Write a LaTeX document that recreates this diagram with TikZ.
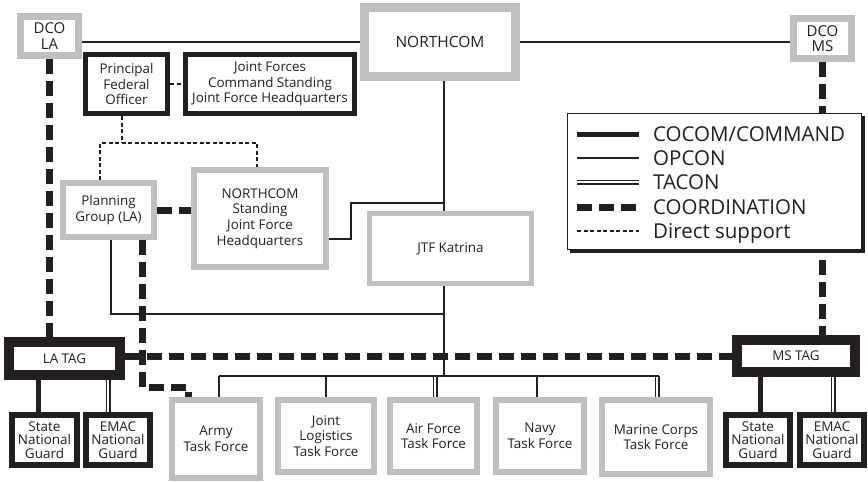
\documentclass[tikz,border=0pt]{standalone}
\usepackage{fontspec}
\setmainfont{Open Sans}
\usetikzlibrary{calc}
\definecolor{ink}{RGB}{35,31,32}
\definecolor{boxgray}{RGB}{190,191,193}
\begin{document}
\begin{tikzpicture}[x=1pt,y=-1pt,
  box/.style={fill=white, align=center, inner sep=0pt, text=ink, font=\fontsize{13.4}{15.6}\selectfont},
  gbox/.style={box, draw=boxgray},
  kbox/.style={box, draw=ink},
  dims/.style n args={3}{line width=#1pt, minimum width=#2pt-#1pt, minimum height=#3pt-#1pt},
  ngfont/.style={font=\fontsize{13.5}{13.6}\selectfont},
  dcofont/.style={font=\fontsize{15}{15.5}\selectfont},
  opcon/.style={draw=ink, line width=1.3pt},
  cocom/.style={draw=ink, line width=5pt},
  tacon/.style={draw=ink, double=white, double distance=2pt, line width=1.5pt},
  coordl/.style={draw=ink, line width=7pt, dash pattern=on 15pt off 7pt},
  dsup/.style={draw=ink, line width=1.8pt, dash pattern=on 4pt off 2.5pt},
  legtext/.style={anchor=base west, inner sep=0pt, text=ink, font=\fontsize{20.5}{24}\selectfont}
]
\useasboundingbox (0,0) rectangle (868,482);

% ---------- nodes ----------
\node[gbox, dims={7}{65}{46}, dcofont] (dcola) at (49.5,36) {DCO\\LA};
\node[gbox, dims={9}{160}{78}, font=\fontsize{15.5}{18}\selectfont] (northcom) at (440,42) {NORTHCOM};
\node[gbox, dims={7}{65}{47}, dcofont] (dcoms) at (822.5,38.5) {DCO\\MS};
\node[kbox, dims={5}{87}{64}] (pfo) at (126.5,84) {Principal\\Federal\\Officer};
\node[kbox, dims={5}{174}{64}] (jfc) at (270,84) {Joint Forces\\Command Standing\\Joint Force Headquarters};
\node[gbox, dims={6}{97}{60}] (pg) at (108.5,210) {Planning\\Group (LA)};
\node[gbox, dims={6}{138}{103}] (nsj) at (260,218.5) {NORTHCOM\\Standing\\Joint Force\\Headquarters};
\node[gbox, dims={5}{167}{75}] (jtf) at (450.5,248.5) {JTF Katrina};
\node[kbox, dims={10}{121}{43}] (latag) at (64.5,358.5) {LA TAG};
\node[kbox, dims={10}{128}{42}] (mstag) at (796,356) {MS TAG};
\node[kbox, dims={6}{71}{56}, ngfont] (lasng) at (44.5,440) {State\\National\\Guard};
\node[kbox, dims={6}{70}{56}, ngfont] (laemac) at (118,440) {EMAC\\National\\Guard};
\node[kbox, dims={6}{70}{56}, ngfont] (mssng) at (758,440) {State\\National\\Guard};
\node[kbox, dims={6}{70}{56}, ngfont] (msemac) at (832,440) {EMAC\\National\\Guard};
\node[gbox, dims={6}{94}{84}] (army) at (216,439) {Army\\Task Force};
\node[gbox, dims={6}{102}{78}] (jl) at (326,436) {Joint\\Logistics\\Task Force};
\node[gbox, dims={6}{93}{78}] (af) at (433.5,436) {Air Force\\Task Force};
\node[gbox, dims={6}{94}{78}] (navy) at (540,436) {Navy\\Task Force};
\node[gbox, dims={6}{114}{80}] (marine) at (656,437) {Marine Corps\\Task Force};

% ---------- helper coordinates ----------
\coordinate (spine) at (444,376);
\coordinate (k0) at (351,239);
\coordinate (k1) at (351,203);
\coordinate (p1) at (111,314);
\coordinate (busL) at (219,376);
\coordinate (bJL) at (326,376);
\coordinate (bAF) at (435,376);
\coordinate (bNV) at (537,376);
\coordinate (busR) at (657,376);
\coordinate (c1) at (142,387);
\coordinate (c2) at (188,387);
\coordinate (ty) at (0,356);
\coordinate (ds) at (122,143);
\coordinate (dsl) at (100,143);
\coordinate (dsr) at (257,143);
\coordinate (g1) at (38,0);
\coordinate (g2) at (108,0);
\coordinate (g3) at (760,0);
\coordinate (g4) at (833,0);

% ---------- OPCON ----------
\draw[opcon] (dcola.east |- northcom.west) -- (northcom.west);
\draw[opcon] (northcom.east) -- (dcoms.west |- northcom.east);
\draw[opcon] (northcom.south -| spine) -- (jtf.north -| spine);
\draw[opcon] (jtf.south -| spine) -- (spine);
\draw[opcon] (nsj.east |- k0) -- (k0) -- (k1) -- (k1 -| spine);
\draw[opcon] (pg.south -| p1) -- (p1) -- (p1 -| spine);
\draw[opcon] (army.north -| busL) -- (busL);
\draw[opcon] (jl.north -| bJL) -- (bJL);
\draw[opcon] (navy.north -| bNV) -- (bNV);
% ---------- TACON drops ----------
\draw[tacon] (af.north -| bAF) -- (bAF);
\draw[tacon] (marine.north -| busR) -- (busR);
\draw[opcon] (busL) -- ([xshift=2pt]busR);
\draw[tacon] (latag.south -| g2) -- (laemac.north -| g2);
\draw[tacon] (mstag.south -| g4) -- (msemac.north -| g4);
% ---------- COCOM ----------
\draw[cocom] (latag.south -| g1) -- (lasng.north -| g1);
\draw[cocom] (mstag.south -| g3) -- (mssng.north -| g3);
% ---------- COORDINATION ----------
\draw[coordl] (dcola.south) -- (latag.north -| dcola.south);
\draw[coordl] (dcoms.south) -- (mstag.north -| dcoms.south);
\draw[coordl] (latag.east |- ty) -- (mstag.west |- ty);
\draw[coordl] (pg.east) -- (nsj.west |- pg.east);
\draw[coordl] (pg.south -| c1) -- (c1) -- (c2) -- (army.north -| c2);
% ---------- Direct support ----------
\draw[dsup] (pfo.east) -- (jfc.west);
\draw[dsup] (pfo.south -| ds) -- (ds);
\draw[dsup] (pg.north -| dsl) -- (dsl) -- (dsr) -- (nsj.north -| dsr);

% ---------- legend ----------
\node[fill=ink, inner sep=0pt, minimum width=295pt, minimum height=137pt] (legshadow) at (717.5,184.5) {};
\node[draw=ink, fill=white, line width=1pt, inner sep=0pt, minimum width=294pt, minimum height=136pt] (legend) at (714.5,181.5) {};
\coordinate (lg) at (legend.north west);
\draw[cocom] ($(lg)+(10,21)$) -- ++(62,0);
\draw[opcon] ($(lg)+(10,45)$) -- ++(62,0);
\draw[tacon] ($(lg)+(10,69)$) -- ++(62,0);
\draw[draw=ink, line width=7pt, dash pattern=on 15pt off 7pt] ($(lg)+(10,94)$) -- ++(62,0);
\draw[dsup] ($(lg)+(10,118)$) -- ++(62,0);
\node[legtext] (t1) at ($(lg)+(86,28.5)$) {COCOM/COMMAND};
\node[legtext] (t2) at ($(lg)+(86,52.5)$) {OPCON};
\node[legtext] (t3) at ($(lg)+(86,76.5)$) {TACON};
\node[legtext] (t4) at ($(lg)+(86,101.5)$) {COORDINATION};
\node[legtext] (t5) at ($(lg)+(86,125.5)$) {Direct support};
\end{tikzpicture}
\end{document}
